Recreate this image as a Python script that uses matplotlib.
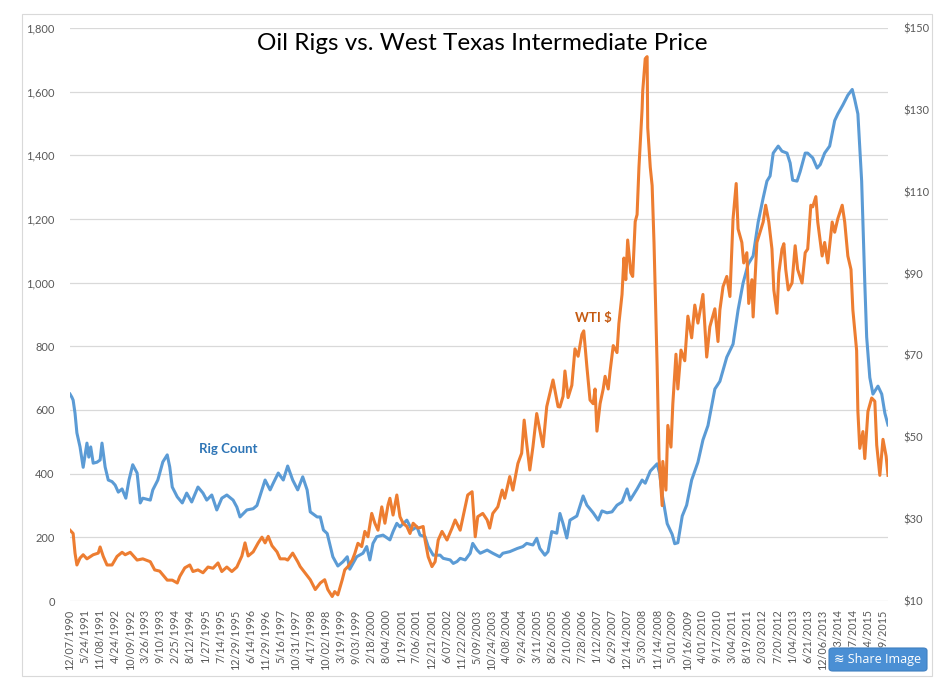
import matplotlib
matplotlib.use("Agg")
import matplotlib.pyplot as plt
from matplotlib.patches import Rectangle, FancyBboxPatch
from matplotlib.ticker import FuncFormatter

plt.rcParams['font.family'] = ['Lato', 'DejaVu Sans']

# x axis: weeks since 12/07/1990, one label every 24 weeks
date_labels = ["12/07/1990", "5/24/1991", "11/08/1991", "4/24/1992", "10/09/1992",
               "3/26/1993", "9/10/1993", "2/25/1994", "8/12/1994", "1/27/1995",
               "7/14/1995", "12/29/1995", "6/14/1996", "11/29/1996", "5/16/1997",
               "10/31/1997", "4/17/1998", "10/02/1998", "3/19/1999", "9/03/1999",
               "2/18/2000", "8/04/2000", "1/19/2001", "7/06/2001", "12/21/2001",
               "6/07/2002", "11/22/2002", "5/09/2003", "10/24/2003", "4/08/2004",
               "9/24/2004", "3/11/2005", "8/26/2005", "2/10/2006", "7/28/2006",
               "1/12/2007", "6/29/2007", "12/14/2007", "5/30/2008", "11/14/2008",
               "5/01/2009", "10/16/2009", "4/01/2010", "9/17/2010", "3/04/2011",
               "8/19/2011", "2/03/2012", "7/20/2012", "1/04/2013", "6/21/2013",
               "12/06/2013", "5/23/2014", "11/07/2014", "4/24/2015", "10/09/2015"]

# oil rig count (left axis)
rig_weeks = [0, 3, 5, 8, 11, 16, 21, 27, 30, 33,
             37, 43, 48, 51, 56, 61, 67, 72, 77, 83,
             89, 94, 100, 107, 112, 116, 128, 132, 140, 148,
             155, 159, 163, 171, 179, 186, 194, 204, 212, 218,
             226, 234, 242, 250, 260, 266, 271, 282, 292, 298,
             306, 311, 319, 324, 332, 340, 347, 355, 363, 371,
             378, 383, 394, 399, 404, 410, 414, 419, 427, 435,
             442, 446, 457, 467, 473, 478, 483, 489, 499, 510,
             515, 521, 526, 537, 545, 553, 558, 566, 571, 579,
             590, 595, 606, 611, 617, 622, 630, 638, 642, 649,
             654, 665, 674, 685, 690, 701, 713, 722, 728, 738,
             744, 749, 757, 762, 768, 776, 781, 786, 792, 797,
             808, 818, 824, 834, 842, 848, 856, 864, 872, 880,
             888, 893, 904, 912, 917, 925, 936, 940, 944, 952,
             960, 964, 969, 976, 983, 991, 1001, 1009, 1017, 1028,
             1036, 1047, 1057, 1065, 1073, 1081, 1089, 1097, 1105, 1111,
             1116, 1121, 1129, 1135, 1143, 1148, 1152, 1159, 1164, 1172,
             1176, 1184, 1191, 1196, 1203, 1211, 1219, 1224, 1232, 1240,
             1247, 1251, 1256, 1262, 1267, 1270, 1275, 1280, 1288, 1294,
             1299, 1304]
rig_count = [650, 640, 631, 590, 528, 484, 420, 496, 452, 484,
             433, 436, 443, 496, 421, 380, 375, 364, 342, 352,
             323, 380, 428, 402, 308, 323, 317, 349, 380, 437,
             459, 421, 358, 327, 308, 339, 311, 358, 339, 317,
             333, 286, 323, 333, 317, 295, 264, 286, 290, 300,
             349, 380, 349, 370, 402, 380, 424, 380, 349, 390,
             349, 280, 264, 264, 223, 212, 180, 139, 110, 123,
             139, 100, 139, 150, 171, 129, 181, 202, 207, 192,
             218, 244, 233, 254, 223, 233, 207, 202, 171, 144,
             144, 134, 129, 118, 124, 134, 129, 150, 181, 160,
             150, 160, 150, 139, 150, 155, 165, 171, 181, 176,
             197, 165, 144, 155, 218, 213, 275, 243, 198, 254,
             267, 330, 301, 277, 254, 283, 277, 280, 301, 311,
             352, 317, 352, 380, 370, 408, 431, 400, 335, 243,
             209, 180, 183, 267, 301, 380, 436, 506, 551, 666,
             690, 766, 807, 914, 999, 1058, 1084, 1190, 1266, 1319,
             1335, 1407, 1429, 1413, 1407, 1376, 1322, 1319, 1349, 1407,
             1407, 1392, 1360, 1371, 1407, 1429, 1509, 1530, 1558, 1589,
             1607, 1575, 1530, 1319, 999, 829, 702, 650, 675, 650,
             590, 553]

# WTI price in dollars (right axis)
wti_weeks = [0, 5, 8, 11, 16, 21, 27, 37, 45, 48,
             53, 59, 67, 75, 83, 88, 96, 107, 116, 128,
             135, 143, 155, 163, 171, 175, 183, 191, 196, 204,
             212, 220, 228, 236, 242, 250, 258, 266, 274, 279,
             284, 292, 300, 306, 311, 316, 322, 330, 335, 343,
             347, 355, 363, 367, 375, 383, 391, 399, 406, 411,
             418, 422, 427, 434, 438, 443, 450, 454, 459, 465,
             470, 475, 481, 486, 491, 497, 502, 507, 510, 515,
             521, 526, 531, 537, 542, 547, 555, 563, 566, 571,
             577, 582, 587, 593, 601, 609, 614, 622, 630, 634,
             641, 646, 650, 658, 665, 669, 674, 682, 689, 693,
             701, 706, 714, 720, 724, 728, 733, 738, 744, 749,
             754, 760, 765, 770, 778, 781, 786, 789, 794, 800,
             805, 810, 816, 819, 824, 829, 834, 837, 840, 845,
             850, 853, 858, 861, 866, 872, 875, 880, 883, 886,
             889, 894, 897, 901, 904, 907, 910, 912, 913, 917,
             920, 921, 925, 928, 931, 936, 939, 944, 945, 950,
             953, 958, 961, 966, 969, 974, 980, 985, 991, 996,
             1001, 1009, 1015, 1020, 1028, 1033, 1036, 1041, 1047, 1052,
             1057, 1062, 1065, 1071, 1074, 1079, 1082, 1087, 1089, 1095,
             1100, 1105, 1109, 1114, 1119, 1122, 1127, 1130, 1135, 1138,
             1141, 1145, 1151, 1156, 1160, 1167, 1172, 1176, 1181, 1184,
             1189, 1192, 1199, 1203, 1208, 1215, 1219, 1224, 1231, 1235,
             1240, 1245, 1248, 1254, 1256, 1259, 1264, 1267, 1272, 1278,
             1283, 1286, 1291, 1296, 1301, 1304]
wti_price = [27.3, 26.5, 21.7, 18.8, 20.5, 21.3, 20.3, 21.3, 21.7, 23.2,
             20.9, 18.8, 18.8, 20.9, 21.9, 21.3, 21.9, 20.0, 20.3, 19.6,
             17.6, 17.3, 15.1, 15.1, 14.4, 16.0, 18.1, 18.8, 17.2, 17.6,
             16.9, 18.3, 18.0, 19.3, 17.2, 18.3, 17.2, 18.3, 21.0, 24.2,
             21.0, 22.0, 24.2, 25.6, 24.2, 25.8, 23.5, 22.0, 20.3, 20.3,
             20.0, 21.7, 19.6, 18.4, 16.8, 15.2, 12.8, 14.4, 15.2, 12.8,
             11.1, 12.3, 11.5, 15.2, 17.6, 18.4, 20.0, 21.6, 24.1, 23.3,
             27.0, 25.7, 31.4, 29.0, 27.3, 33.0, 29.0, 33.5, 35.1, 31.0,
             35.9, 30.6, 29.0, 28.2, 26.5, 29.0, 27.8, 28.2, 24.9, 20.8,
             18.4, 19.6, 24.9, 27.0, 24.9, 27.8, 29.8, 27.3, 33.0, 35.9,
             36.7, 25.7, 30.6, 31.4, 29.8, 27.8, 31.4, 33.0, 37.1, 35.1,
             40.4, 37.1, 43.6, 46.1, 54.2, 48.5, 42.0, 47.7, 55.8, 51.8,
             47.7, 57.5, 60.7, 64.0, 57.5, 57.4, 60.0, 66.2, 59.7, 62.7,
             71.6, 69.8, 75.1, 76.0, 67.2, 59.1, 58.2, 61.8, 51.5, 58.2,
             61.8, 64.9, 61.8, 66.2, 72.4, 70.7, 77.8, 84.9, 93.8, 88.5,
             98.2, 90.2, 89.3, 102.7, 104.4, 116.0, 124.8, 130.2, 134.6, 142.5,
             143.0, 125.6, 116.0, 111.5, 97.5, 67.2, 44.9, 33.3, 44.1, 37.1,
             52.9, 47.6, 58.2, 70.3, 61.8, 71.3, 68.7, 79.6, 74.3, 82.3,
             77.9, 84.9, 69.6, 77.0, 81.4, 73.4, 81.1, 86.8, 89.3, 84.4,
             103.4, 112.0, 100.9, 97.6, 92.6, 95.1, 82.7, 88.5, 79.4, 97.6,
             100.1, 102.6, 106.7, 102.6, 96.0, 86.0, 80.3, 90.2, 96.0, 97.3,
             91.0, 86.0, 87.7, 96.8, 91.0, 87.7, 95.1, 96.0, 106.7, 106.3,
             108.8, 102.6, 94.3, 97.6, 92.6, 102.6, 100.1, 103.4, 106.7, 102.6,
             94.3, 91.0, 81.1, 71.2, 56.3, 47.3, 51.4, 44.8, 56.3, 59.6,
             58.8, 48.1, 40.7, 49.5, 45.4, 40.7]

BLUE = '#5B9BD5'
ORANGE = '#ED7D31'
GRID = '#D9D9D9'
TICK = '#595959'

W, H = 950, 688
fig = plt.figure(figsize=(W / 100, H / 100), dpi=100)
# thin frame round the whole chart
fig.patches.append(Rectangle((22 / W, 1 - 676 / H), 910 / W, 662 / H,
                             transform=fig.transFigure, fill=False,
                             edgecolor=GRID, linewidth=0.8))

ax = fig.add_axes([70 / W, 1 - 601 / H, 818 / W, 573 / H])
ax2 = ax.twinx()

ax.plot(rig_weeks, rig_count, color=BLUE, linewidth=2.2, solid_joinstyle='round')
ax2.plot(wti_weeks, wti_price, color=ORANGE, linewidth=2.2, solid_joinstyle='round')

ax.set_xlim(0, rig_weeks[-1])
ax.set_ylim(0, 1800)
ax2.set_ylim(10, 150)
ax.set_yticks(range(0, 1801, 200))
ax2.set_yticks(range(10, 151, 20))
ax.yaxis.set_major_formatter(FuncFormatter(lambda v, p: f'{int(v):,}'))
ax2.yaxis.set_major_formatter(FuncFormatter(lambda v, p: f'${int(v)}'))

ax.set_xticks(range(0, 24 * len(date_labels), 24))
ax.set_xticklabels(date_labels, rotation=90)

ax.grid(axis='y', color=GRID, linewidth=0.9)
ax.set_axisbelow(True)
for a in (ax, ax2):
    for s in a.spines.values():
        s.set_visible(False)
    a.tick_params(length=0, colors=TICK, labelsize=8)
ax.tick_params(axis='y', pad=11)
ax2.tick_params(axis='y', pad=11)
ax.tick_params(axis='x', pad=6, labelsize=7.8)

fig.text(482 / W, 1 - 43 / H, 'Oil Rigs vs. West Texas Intermediate Price',
         ha='center', va='center', fontsize=17.5, color='black')
fig.text(228 / W, 1 - 449 / H, 'Rig Count', ha='center', va='center',
         fontsize=9.5, fontweight='bold', color='#2E75B6')
fig.text(593 / W, 1 - 318 / H, 'WTI $', ha='center', va='center',
         fontsize=9.5, fontweight='bold', color='#C55A11')

# "Share Image" button that sits over the bottom right corner
btn = FancyBboxPatch((829 / W, 1 - 671 / H), 98 / W, 23 / H,
                     boxstyle='round,pad=0,rounding_size=0.004',
                     transform=fig.transFigure, facecolor='#4A8FD4',
                     edgecolor='#3F7FC0', linewidth=0.8, zorder=10)
fig.patches.append(btn)
fig.text(878 / W, 1 - 659.5 / H, '≋ Share Image', ha='center', va='center',
         fontsize=9, color='white', zorder=11,
         family=['Open Sans', 'DejaVu Sans'])

fig.savefig('out.png', dpi=100)
